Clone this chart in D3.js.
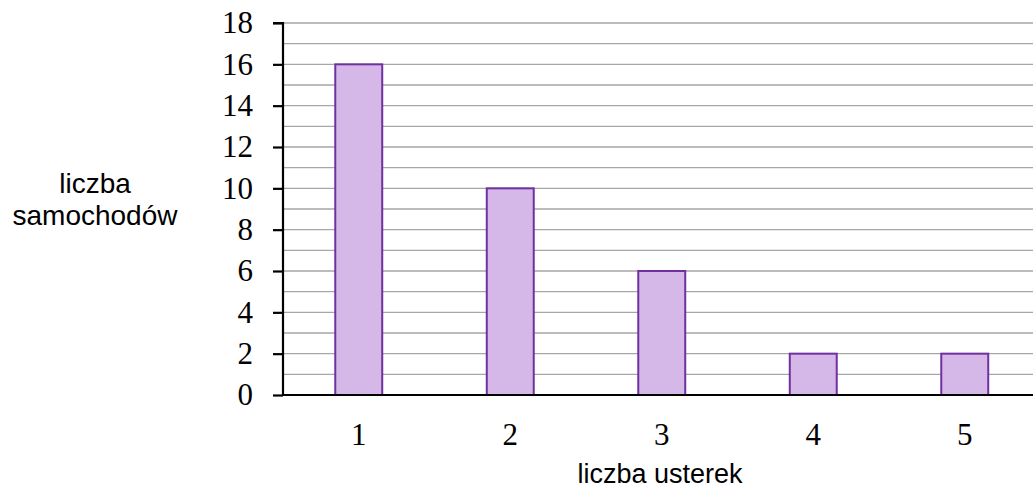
<!DOCTYPE html>
<html><head><meta charset="utf-8">
<script src="https://cdn.jsdelivr.net/npm/d3@7"></script>
<style>body{margin:0;background:#fff}</style>
</head><body>
<svg id="c" width="1033" height="488"></svg>
<script>
const categories = ["1","2","3","4","5"];
const values = [16,10,6,2,2];
const yTicks = [0,2,4,6,8,10,12,14,16,18];
const gridValues = d3.range(1,19);
const xTitle = "liczba usterek";
const yTitle = ["liczba","samochodów"];

(function(){
const svg = d3.select("#c");
const pL = 283, pR = 1040.5, pT = 23, pB = 395;
const x = d3.scaleBand().domain(categories).range([pL, pR]).paddingInner(0.69).paddingOuter(0.345);
const y = d3.scaleLinear().domain([0,18]).range([pB, pT]);
const serif = "'Liberation Serif', 'DejaVu Serif', serif";
const sans = "'Liberation Sans', Arial, sans-serif";

svg.append("g").selectAll("line").data(gridValues).join("line")
  .attr("x1", pL).attr("x2", 1033)
  .attr("y1", d => y(d)).attr("y2", d => y(d))
  .attr("stroke", "#a6a6a6").attr("stroke-width", 1.3);

svg.append("g").selectAll("rect").data(values).join("rect")
  .attr("x", (d,i) => x(categories[i]))
  .attr("width", x.bandwidth())
  .attr("y", d => y(d))
  .attr("height", d => y(0) - y(d))
  .attr("fill", "#d5b8e8").attr("stroke", "#7030a0").attr("stroke-width", 2);

const yAxis = d3.axisLeft(y).tickValues(yTicks).tickSize(10).tickPadding(20);
const gy = svg.append("g").attr("transform", `translate(${pL},0)`).call(yAxis);
gy.select(".domain").attr("stroke", "#000").attr("stroke-width", 2.2).attr("d", `M-10,${pT}H0V${pB}`);
gy.selectAll(".tick line").attr("stroke", "#000").attr("stroke-width", 2.2);
gy.selectAll(".tick text").attr("font-family", serif).attr("font-size", 31).attr("fill", "#000");

const xAxis = d3.axisBottom(x).tickSize(0);
const gx = svg.append("g").attr("transform", `translate(0,${pB})`).call(xAxis);
gx.select(".domain").attr("stroke", "#000").attr("stroke-width", 2.2).attr("d", `M${pL},0H1033`);
gx.selectAll(".tick text").attr("font-family", serif).attr("font-size", 31).attr("fill", "#000")
  .attr("y", 50).attr("dy", 0);

svg.append("text").attr("x", 660).attr("y", 483).attr("text-anchor", "middle")
  .attr("font-family", sans).attr("font-size", 27).text(xTitle);
svg.append("text").attr("text-anchor", "middle").attr("font-family", sans).attr("font-size", 28)
  .selectAll("tspan").data(yTitle).join("tspan").attr("x", 95).attr("y", (d,i) => 193 + i*32).text(d => d);
})();
</script>
</body></html>
